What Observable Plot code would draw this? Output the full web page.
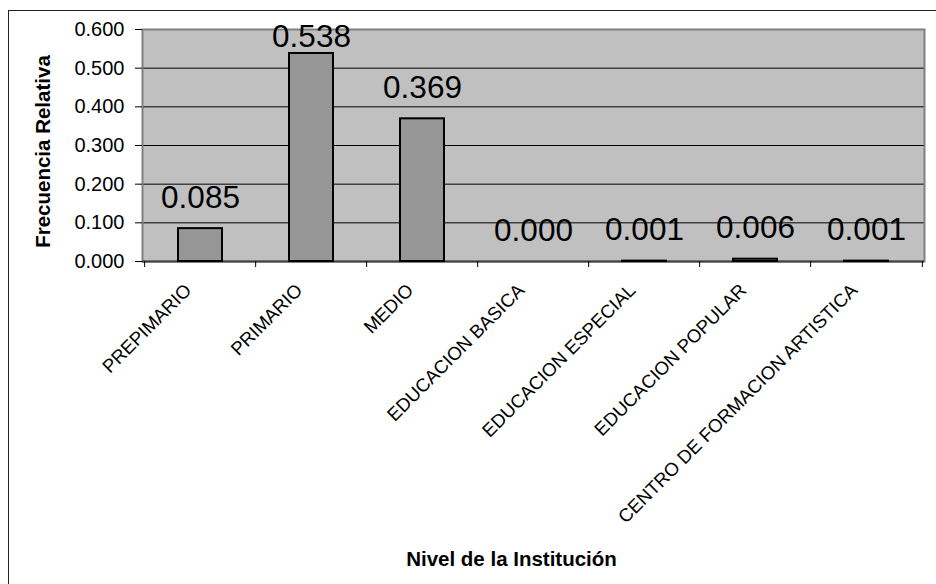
<!DOCTYPE html>
<html>
<head>
<meta charset="utf-8">
<script src="https://cdn.jsdelivr.net/npm/d3@7"></script>
<script src="https://cdn.jsdelivr.net/npm/@observablehq/plot@0.6"></script>
<style>
  html, body { margin: 0; padding: 0; background: #fff; }
  #wrap { position: relative; width: 936px; height: 584px; overflow: hidden; }
  #border { position: absolute; left: 8px; top: 10px; width: 960px; height: 620px;
            border-left: 1.5px solid #222; border-top: 1.5px solid #222; box-sizing: border-box; }
  #chart { position: absolute; left: 0; top: 0; }
</style>
</head>
<body>
<div id="wrap"><div id="border"></div><div id="chart"></div></div>
<script>
const categories = ["PREPIMARIO", "PRIMARIO", "MEDIO", "EDUCACION BASICA",
  "EDUCACION ESPECIAL", "EDUCACION POPULAR", "CENTRO DE FORMACION ARTISTICA"];
const values = [0.085, 0.538, 0.369, 0.000, 0.001, 0.006, 0.001];
const yTicks = [0, 0.1, 0.2, 0.3, 0.4, 0.5, 0.6];
const gridValues = [0.1, 0.2, 0.3, 0.4, 0.5];
const yTitle = "Frecuencia Relativa";
const xTitle = "Nivel de la Institución";

const data = categories.map((c, i) => ({category: c, value: values[i]}));

const W = 936, H = 584, mL = 142, mR = 12, mT = 29, mB = 323;
const step = (W - mL - mR) / categories.length;
const pxPerUnit = (H - mT - mB) / 0.6;
const font = "'Liberation Sans', Arial, sans-serif";

const chart = Plot.plot({
  width: W, height: H,
  marginLeft: mL, marginRight: mR, marginTop: mT, marginBottom: mB,
  style: {fontFamily: font, background: "transparent", color: "black", overflow: "visible"},
  x: {domain: categories, paddingInner: 0.6, paddingOuter: 0.3, axis: null},
  y: {domain: [0, 0.6], axis: null},
  marks: [
    Plot.frame({fill: "#c0c0c0"}),
    Plot.ruleY(gridValues, {stroke: "black", strokeWidth: 1}),
    Plot.frame({stroke: "#808080", strokeWidth: 2}),
    Plot.ruleY([0], {stroke: "#404040", strokeWidth: 2}),
    Plot.barY(data, {x: "category", y: "value", fill: "#969696", stroke: "black", strokeWidth: 2}),
    Plot.ruleY(data, {x: "category", y: "value", stroke: "black", strokeWidth: 2.5}),
    Plot.axisY({ticks: yTicks, tickFormat: d3.format(".3f"), tickSize: 7, tickPadding: 11,
      fontSize: 20, label: null, stroke: "black"}),
    Plot.ruleX(categories, {x: d => d, dx: -step / 2, y1: 0, y2: -6 / pxPerUnit, stroke: "black"}),
    Plot.ruleX([categories[categories.length - 1]], {x: d => d, dx: step / 2, y1: 0, y2: -6 / pxPerUnit, stroke: "black"}),
    Plot.text(data, {x: "category", y: d => Math.min(d.value, 0.5), text: d => d.value.toFixed(3),
      dy: -21, lineAnchor: "bottom", fontSize: 31.5, fill: "black"}),
    Plot.text(categories, {x: d => d, frameAnchor: "bottom", rotate: -45, textAnchor: "end",
      lineAnchor: "bottom", dy: 30, dx: -8, fontSize: 18.6, fill: "black"}),
    Plot.text([yTitle], {frameAnchor: "left", textAnchor: "middle", dx: -99, dy: 6, rotate: -90,
      fontWeight: "bold", fontSize: 20.5, fill: "black"}),
    Plot.text([xTitle], {frameAnchor: "bottom", textAnchor: "middle", dx: -22, dy: 304, lineAnchor: "bottom",
      fontWeight: "bold", fontSize: 20.5, fill: "black"})
  ]
});
document.getElementById("chart").appendChild(chart);
</script>
</body>
</html>
